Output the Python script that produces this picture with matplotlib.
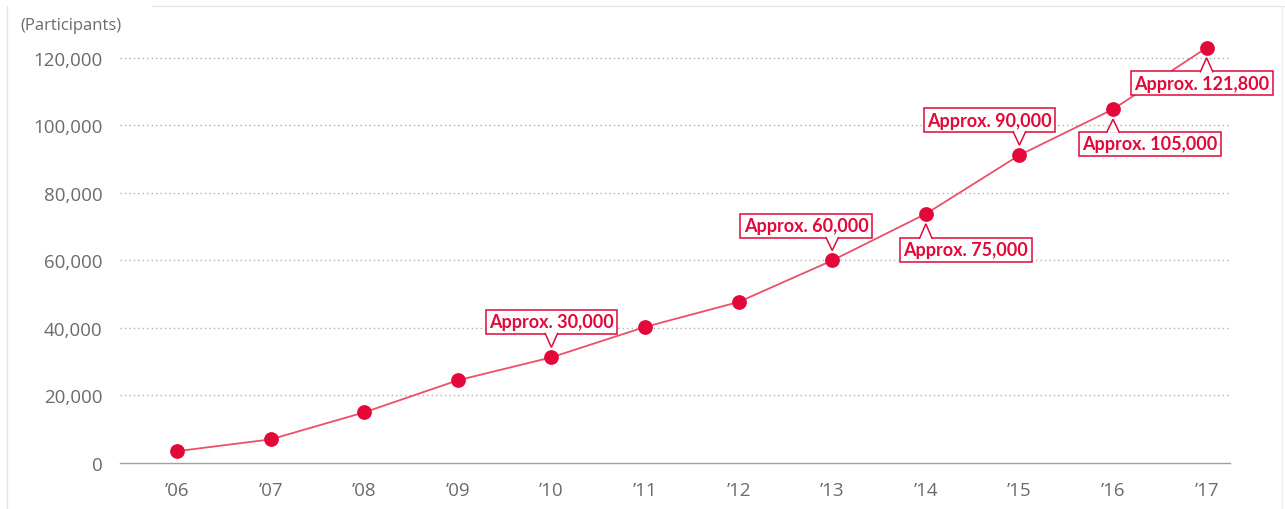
import matplotlib
matplotlib.use("Agg")
import matplotlib.pyplot as plt
from matplotlib.patches import Polygon
from matplotlib.lines import Line2D
from matplotlib.transforms import IdentityTransform

# ---- data ----
years = list(range(2006, 2018))
year_labels = ["’06", "’07", "’08", "’09", "’10", "’11", "’12", "’13", "’14", "’15", "’16", "’17"]
participants = [3500, 7000, 15000, 24500, 31300, 40300, 47700, 60000, 73800, 91200, 104800, 123000]
y_ticks = [0, 20000, 40000, 60000, 80000, 100000, 120000]
y_tick_labels = ["0", "20,000", "40,000", "60,000", "80,000", "100,000", "120,000"]
ann_years = [2010, 2013, 2014, 2015, 2016, 2017]
ann_texts = ["Approx. 30,000", "Approx. 60,000", "Approx. 75,000",
             "Approx. 90,000", "Approx. 105,000", "Approx. 121,800"]
# box-centre offsets from the point (pixels)
ann_offsets = [(0, 35.5), (-26, 34.5), (40, -36), (-30, 35), (37, -34.5), (-5, -35.5)]

RED = "#e2083a"
LINE_RED = "#ec5068"
GREY_TXT = "#6b6b6b"

W, H = 1285, 510
fig = plt.figure(figsize=(W / 100, H / 100), dpi=100)
ax = fig.add_axes([120 / W, 1 - 464 / H, 1110 / W, 454 / H])
ax.set_xlim(2005.391, 2017.25)
ax.set_ylim(0, 134500)

for s in ["top", "right", "left"]:
    ax.spines[s].set_visible(False)
ax.spines["bottom"].set_color("#a0a0a0")
ax.spines["bottom"].set_linewidth(1.0)

ax.set_yticks(y_ticks)
ax.set_yticklabels(y_tick_labels, fontfamily="Open Sans", fontsize=13.5, color=GREY_TXT)
ax.set_xticks(years)
ax.set_xticklabels(year_labels, fontfamily="Open Sans", fontsize=13.5, color=GREY_TXT)
ax.tick_params(axis="both", length=0)
ax.tick_params(axis="y", pad=12.5)
ax.tick_params(axis="x", pad=13)

for v in y_ticks[1:]:
    ax.axhline(v, color="#b0b0b0", lw=1.0, linestyle=(0, (1, 2.2)), zorder=1)

ax.plot(years, participants, color=LINE_RED, lw=1.3, zorder=3, clip_on=False)
ax.plot(years, participants, linestyle="none", marker="o", markersize=9.6,
        color=RED, markeredgecolor=RED, zorder=4, clip_on=False)

fig.text(20 / W, 1 - 26 / H, "(Participants)", fontfamily="Open Sans", fontsize=12,
         color=GREY_TXT, va="center", ha="left")

texts = []
for yr, txt, (dx, dy) in zip(ann_years, ann_texts, ann_offsets):
    val = participants[years.index(yr)]
    t = ax.annotate(txt, xy=(yr, val), xytext=(dx, dy), textcoords="offset pixels",
                    ha="center", va="center", fontfamily="Lato", fontweight="bold",
                    fontsize=13, color=RED, zorder=6,
                    bbox=dict(boxstyle="square,pad=0.19", fc="white", ec=RED, lw=1.1))
    texts.append((t, yr, val, dy))

fig.canvas.draw()
for t, yr, val, dy in texts:
    bb = t.get_bbox_patch().get_window_extent()
    px, py = ax.transData.transform((yr, val))
    hw = 6.5
    if dy > 0:
        base_y = bb.y0 + 1.0
        tip = (px, py + 10)
    else:
        base_y = bb.y1 - 1.0
        tip = (px, py - 10)
    bx = min(max(px, bb.x0 + hw + 2), bb.x1 - hw - 2)
    poly = Polygon([(bx - hw, base_y), tip, (bx + hw, base_y)], closed=False,
                   transform=IdentityTransform(), facecolor="white", edgecolor=RED,
                   lw=1.1, zorder=7)
    fig.add_artist(poly)

# faint outer frame
fig.add_artist(Line2D([7 / W, 7 / W], [0, 1 - 7 / H], color="#e6e6e6", lw=1))
fig.add_artist(Line2D([152 / W, 1], [1 - 7 / H, 1 - 7 / H], color="#e6e6e6", lw=1))
fig.add_artist(Line2D([1282 / W, 1282 / W], [0, 1 - 7 / H], color="#eeeeee", lw=1))

fig.savefig("out.png", dpi=100, facecolor="white")
